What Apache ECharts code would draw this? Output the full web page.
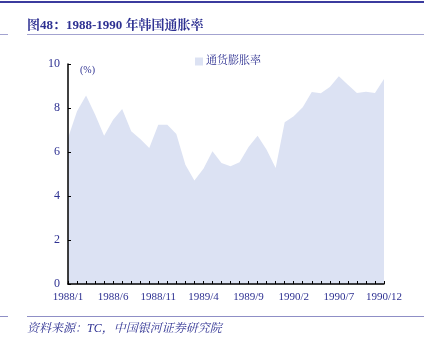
<!DOCTYPE html>
<html><head><meta charset="utf-8">
<script src="https://cdn.jsdelivr.net/npm/echarts@6/dist/echarts.min.js"></script>
<style>html,body{margin:0;padding:0;background:#fff}#c{width:424px;height:343px}</style>
</head><body><div id="c"></div>
<script>
const months = [];
for (let y = 1988; y <= 1990; y++) for (let m = 1; m <= 12; m++) months.push(y + '/' + m);
const inflation = [6.64,7.85,8.57,7.7,6.74,7.47,7.95,6.94,6.59,6.18,7.24,7.24,
                   6.82,5.42,4.7,5.24,6.03,5.5,5.35,5.53,6.23,6.74,6.1,5.27,
                   7.35,7.62,8.03,8.73,8.67,8.95,9.44,9.06,8.68,8.74,8.68,9.32];
const yTicks = [0,2,4,6,8,10];
const seriesName = '通货膨胀率';
const navy = '#2e3192';
const serif = '"Liberation Serif","Noto Serif CJK SC","Noto Sans CJK SC",serif';
const chart = echarts.init(document.getElementById('c'), null, {renderer:'canvas'});
chart.setOption({
  animation:false,
  backgroundColor:'#fff',
  grid:{left:68,right:40,top:64,bottom:59},
  legend:{show:true,left:190,top:51,itemWidth:8,itemHeight:8,itemGap:3,icon:'rect',
    textStyle:{color:navy,fontSize:11,fontFamily:serif,padding:[0,0,0,-2]},data:[seriesName]},
  graphic:[
    {type:'rect',shape:{x:0,y:1,width:424,height:2},style:{fill:'#3b3b9e'}},
    {type:'rect',shape:{x:0,y:34,width:8,height:1},style:{fill:'#a3a3d0'}},
    {type:'rect',shape:{x:27,y:34,width:397,height:1},style:{fill:'#a3a3d0'}},
    {type:'rect',shape:{x:0,y:316,width:8,height:1},style:{fill:'#8f8fc6'}},
    {type:'rect',shape:{x:27,y:316,width:397,height:1},style:{fill:'#8f8fc6'}},
    {type:'text',left:27,top:19,style:{text:'图48：1988-1990 年韩国通胀率',fill:navy,
      font:'bold 13px '+serif}},
    {type:'text',left:27,top:323,style:{text:'资料来源：TC，中国银河证券研究院',fill:navy,
      font:'italic 12px '+serif}},
    {type:'text',left:80,top:65,style:{text:'(%)',fill:navy,font:'10px '+serif}}
  ],
  xAxis:{type:'category',data:months,boundaryGap:false,z:5,
    axisLine:{lineStyle:{color:'#000',width:1.5}},
    axisTick:{show:true,inside:true,length:3,interval:0,lineStyle:{color:'#000'}},
    axisLabel:{interval:4,color:navy,fontSize:11,fontFamily:serif,margin:8},
    splitLine:{show:false}},
  yAxis:{type:'value',min:0,max:10,interval:2,z:5,
    axisLine:{show:true,lineStyle:{color:'#000',width:1.5}},
    axisTick:{show:true,inside:true,length:3,lineStyle:{color:'#000'}},
    axisLabel:{color:navy,fontSize:12,fontFamily:serif,margin:8,
      formatter:v=>yTicks.includes(v)?String(v):''},
    splitLine:{show:false}},
  series:[{name:seriesName,type:'line',data:inflation,symbol:'none',z:2,
    lineStyle:{width:0,color:'#dce2f3'},itemStyle:{color:'#dce2f3'},
    areaStyle:{color:'#dce2f3',opacity:1}}]
});
</script></body></html>
